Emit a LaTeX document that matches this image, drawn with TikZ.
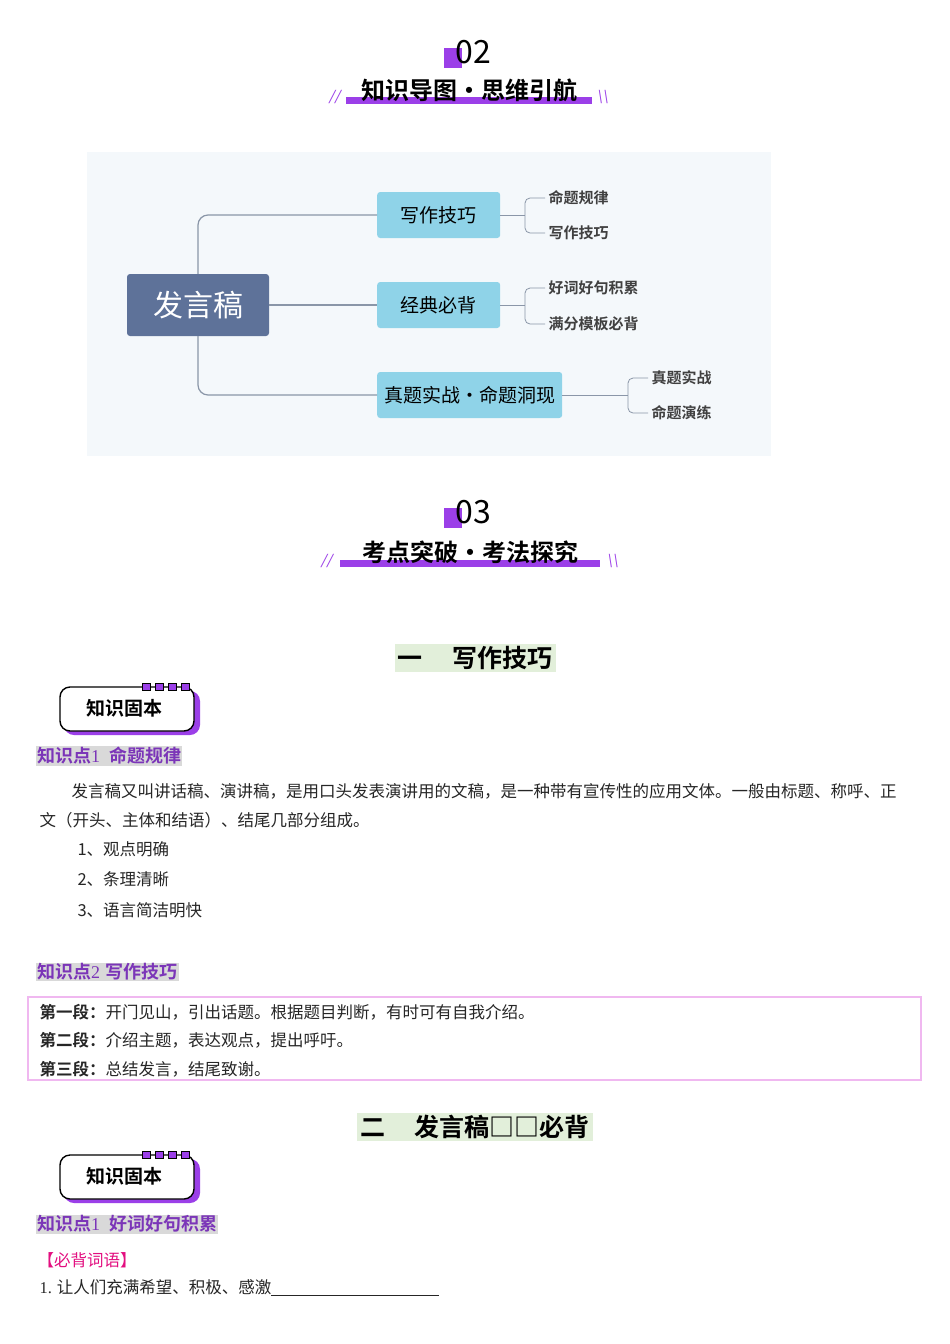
\documentclass[tikz,border=0pt]{standalone}
\usepackage{fontspec}
\setmainfont{Liberation Serif}
\newfontfamily\cjk{Noto Sans CJK SC}
\newfontfamily\cjkb{Noto Sans CJK SC Bold}
\usetikzlibrary{positioning}
\definecolor{purp}{HTML}{9B3FE8}
\definecolor{kpurp}{HTML}{7B35B8}
\definecolor{rootc}{HTML}{5E7299}
\definecolor{branchc}{HTML}{8FD3E8}
\definecolor{mapbg}{HTML}{F4F8FB}
\definecolor{greenbg}{HTML}{E2EFDA}
\definecolor{pinkc}{HTML}{F0B8F0}
\definecolor{linec}{HTML}{8A96A8}
\tikzset{
  branch/.style={draw=none, fill=branchc, rounded corners=3pt, inner xsep=.7em, minimum width=123pt, minimum height=46pt, font=\cjk\fontsize{19}{19}\selectfont},
  leaf/.style={anchor=west, font=\cjkb\fontsize{15}{15}\selectfont, text=black!75},
  link/.style={linec, line width=1.2pt, rounded corners=10pt},
  body/.style={anchor=west, font=\cjk\fontsize{16.5}{16.5}\selectfont, text=black!85},
  kp/.style={anchor=west, fill=black!15, text=kpurp, inner sep=1pt, font=\cjkb\fontsize{18}{18}\selectfont},
  sectitle/.style={fill=greenbg, inner xsep=.3em, inner ysep=2pt, font=\cjkb\fontsize{25}{25}\selectfont},
  head/.style={font=\cjkb\fontsize{24}{24}\selectfont},
  num/.style={font=\cjk\fontsize{32}{32}\selectfont},
  slash/.style={purp, font=\fontsize{20}{20}\selectfont\itshape},
}
\newcommand{\badge}[2]{%
  \fill[purp, rounded corners=10pt] (#1+4,#2+4) -- (#1+140,#2+4) -- (#1+140,#2+48) -- (#1+4,#2+48) -- cycle;
  \draw[line width=1.4pt, fill=white, rounded corners=10pt] (#1,#2) -- (#1+134,#2) -- (#1+134,#2+44) -- (#1,#2+44) -- cycle;
  \foreach \k in {0,1,2,3} \draw[line width=1pt, fill=purp] (#1+82+\k*13,#2-4) rectangle ++(8,7);
  \node[font=\cjkb\fontsize{19}{19}\selectfont] at (#1+64,#2+21) {知识固本};}
\begin{document}
\begin{tikzpicture}[x=1pt, y=-1pt]
\useasboundingbox[fill=white] (0,0) rectangle (950,1344);
% heading 02
\fill[purp] (444,48) rectangle (462,68);
\node[num] (n02) at (473,52) {02};
\fill[purp] (346,97) rectangle (592,104);
\node[head] (h02) at (469,90) {知识导图•思维引航};
\node[slash] at (335,97) {//};
\node[slash] at (603,97) {\textbackslash\textbackslash};
% mind map
\fill[mapbg] (87,152) rectangle (771,456);
\node[fill=rootc, text=white, rounded corners=3pt, minimum width=142pt, minimum height=62pt, font=\cjk\fontsize{30}{30}\selectfont] (root) at (198,305) {发言稿};
\node[branch, anchor=west] (b1) at (377,215) {写作技巧};
\node[branch, anchor=west] (b2) at (377,305) {经典必背};
\node[branch, anchor=west] (b3) at (377,395) {真题实战·命题洞现};
\draw[link] (root.north) |- (b1.west);
\draw[link] (root.east) -- (b2.west);
\draw[link] (root.south) |- (b3.west);
\node[leaf] (l1) at (545,198) {命题规律};
\node[leaf] (l2) at (545,233) {写作技巧};
\node[leaf] (l3) at (545,288) {好词好句积累};
\node[leaf] (l4) at (545,324) {满分模板必背};
\node[leaf] (l5) at (648,378) {真题实战};
\node[leaf] (l6) at (648,413) {命题演练};
\foreach \b/\x/\y/\u/\d in {b1/525/215/l1/l2, b2/525/305/l3/l4, b3/628/395/l5/l6}{
  \coordinate (fork) at (\x,\y);
  \draw[linec, line width=.8pt] (\b.east) -- (fork);
  \draw[linec, line width=.8pt, rounded corners=5pt] (\u.west) -| (fork) |- (\d.west);
}
% heading 03
\fill[purp] (444,508) rectangle (462,528);
\node[num] (n03) at (473,512) {03};
\fill[purp] (340,560) rectangle (600,567);
\node[head] (h03) at (470,552) {考点突破•考法探究};
\node[slash] at (327,561) {//};
\node[slash] at (613,561) {\textbackslash\textbackslash};
% section one
\node[sectitle] (s1) at (475,658) {一\hspace{1.2em}写作技巧};
\badge{60}{687}
\node[kp] (k1) at (36,756) {知识点{\rmfamily 1}\hspace{.5em}命题规律};
\node[body] (p1) at (68,791) {发言稿又叫讲话稿、演讲稿，是用口头发表演讲用的文稿，是一种带有宣传性的应用文体。一般由标题、称呼、正};
\node[body] (p2) at (36,820) {文（开头、主体和结语）、结尾几部分组成。};
\node[body] (p3) at (74,849) {1、观点明确};
\node[body] (p4) at (74,879) {2、条理清晰};
\node[body] (p5) at (74,910) {3、语言简洁明快};
\node[kp] (k2) at (36,972) {知识点{\rmfamily 2}\hspace{.3em}写作技巧};
\draw[pinkc, line width=1.5pt] (28,997) rectangle (921,1080);
\node[body] (q1) at (36,1012) {\cjkb 第一段：\cjk 开门见山，引出话题。根据题目判断，有时可有自我介绍。};
\node[body] (q2) at (36,1040) {\cjkb 第二段：\cjk 介绍主题，表达观点，提出呼吁。};
\node[body] (q3) at (36,1069) {\cjkb 第三段：\cjk 总结发言，结尾致谢。};
% section two
\node[sectitle] (s2) at (475,1127) {二\hspace{1.2em}发言稿□□必背};
\badge{60}{1155}
\node[kp] (k3) at (36,1224) {知识点{\rmfamily 1}\hspace{.5em}好词好句积累};
\node[body, text=magenta!80!purple] (m1) at (34,1260) {【必背词语】};
\node[body] (m2) at (36,1288) {{\rmfamily 1.} 让人们充满希望、积极、感激\rule[-2pt]{168pt}{.6pt}};
\end{tikzpicture}
\end{document}
